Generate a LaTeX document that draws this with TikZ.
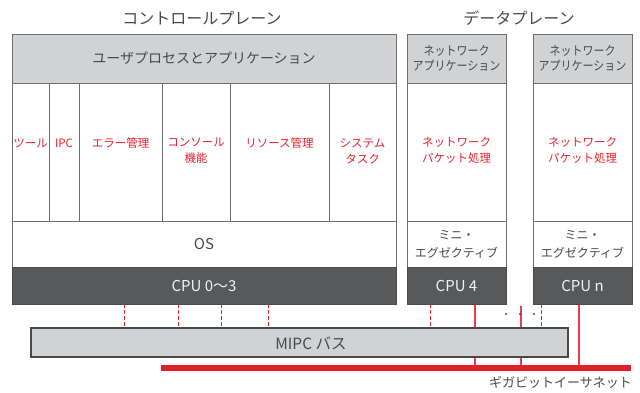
\documentclass[tikz,border=0pt]{standalone}
\usepackage{fontspec}
\setmainfont{Noto Sans CJK JP}
\newfontfamily\condfont[FakeStretch=0.88]{Noto Sans CJK JP}
\usetikzlibrary{backgrounds}
\definecolor{hdr}{RGB}{209,210,212}
\definecolor{cpufill}{RGB}{88,89,91}
\definecolor{edge}{RGB}{110,111,114}
\definecolor{txt}{RGB}{72,73,75}
\definecolor{lab}{RGB}{232,33,43}
\definecolor{gbe}{RGB}{226,30,38}
\definecolor{linkred}{RGB}{236,60,68}
\begin{document}
\begin{tikzpicture}[x=1pt,y=-1pt,
  box/.style={draw=edge, line width=0.9pt, rectangle, inner sep=0pt, outer sep=0pt},
  hdrbox/.style={box, fill=hdr, text=txt},
  plainbox/.style={box, fill=white, text=txt},
  cpubox/.style={box, fill=cpufill, draw=cpufill!85!black, text=white!90!gray, font=\fontsize{15}{17}\selectfont},
  redlab/.style={text=lab, font=\fontsize{11.5}{16}\selectfont, align=center, inner sep=0pt},
  dsh/.style={draw=lab, line width=1pt, dash pattern=on 3.5pt off 2.5pt},
  ethlink/.style={color=linkred, line width=1.1pt},
  ttl/.style={text=txt, font=\fontsize{16}{18}\selectfont, inner sep=0pt}
]
\useasboundingbox (0,0) rectangle (640,392);

% titles
\node[ttl] (tcp) at (202,18) {コントロールプレーン};
\node[ttl] (tdp) at (519,18) {データプレーン};

% control plane
\node[hdrbox, minimum width=384pt, minimum height=49pt, font=\fontsize{14}{16}\selectfont] (cph) at (204,58.5) {ユーザプロセスとアプリケーション};
\node[plainbox, minimum width=37pt, minimum height=138pt] (c1) at (30.5,152) {};
\node[plainbox, minimum width=30pt, minimum height=138pt] (c2) at (64,152) {};
\node[plainbox, minimum width=83pt, minimum height=138pt] (c3) at (120.5,152) {};
\node[plainbox, minimum width=68pt, minimum height=138pt] (c4) at (196,152) {};
\node[plainbox, minimum width=99pt, minimum height=138pt] (c5) at (279.5,152) {};
\node[plainbox, minimum width=67pt, minimum height=138pt] (c6) at (362.5,152) {};
\node[redlab] (l1) at (30.5,143) {ツール};
\node[redlab] (l2) at (64,143) {IPC};
\node[redlab] (l3) at (120.5,143) {エラー管理};
\node[redlab] (l4) at (196,151) {コンソール\\機能};
\node[redlab] (l5) at (279.5,143) {リソース管理};
\node[redlab] (l6) at (362.5,151) {システム\\タスク};
\node[plainbox, minimum width=384pt, minimum height=46pt, font=\fontsize{15}{17}\selectfont] (os) at (204,244) {OS};
\node[cpubox, minimum width=384pt, minimum height=37pt] (cpuA) at (204,285.5) {CPU 0～3};

% data plane 1
\node[hdrbox, minimum width=99pt, minimum height=49pt, align=center, font=\condfont\fontsize{12.5}{15}\selectfont] (dh1) at (456.5,58.5) {ネットワーク\\アプリケーション};
\node[plainbox, minimum width=99pt, minimum height=138pt] (db1) at (456.5,152) {};
\node[redlab] (dl1) at (456.5,150.5) {ネットワーク\\パケット処理};
\node[plainbox, minimum width=99pt, minimum height=46pt, align=center, font=\fontsize{12}{18}\selectfont] (me1) at (456.5,244) {ミニ・\\エグゼクティブ};
\node[cpubox, minimum width=99pt, minimum height=37pt] (cpuB) at (456.5,285.5) {CPU 4};

% data plane n
\node[hdrbox, minimum width=99pt, minimum height=49pt, align=center, font=\condfont\fontsize{12.5}{15}\selectfont] (dh2) at (582.5,58.5) {ネットワーク\\アプリケーション};
\node[plainbox, minimum width=99pt, minimum height=138pt] (db2) at (582.5,152) {};
\node[redlab] (dl2) at (582.5,150.5) {ネットワーク\\パケット処理};
\node[plainbox, minimum width=99pt, minimum height=46pt, align=center, font=\fontsize{12}{18}\selectfont] (me2) at (582.5,244) {ミニ・\\エグゼクティブ};
\node[cpubox, minimum width=99pt, minimum height=37pt] (cpuC) at (582.5,285.5) {CPU n};

% bus
\node[box, fill=hdr, draw=txt, line width=1.2pt, minimum width=537pt, minimum height=29pt] (bus) at (299.5,342.5) {};
\node[text=txt, font=\fontsize{15.5}{17}\selectfont, inner sep=0pt] (busl) at (311,343) {MIPC バス};

% gigabit ethernet
\coordinate (geL) at (161,368);
\coordinate (geR) at (631,368);
\coordinate (tap) at (521,306);
\node[text=txt, font=\fontsize{13}{15}\selectfont, inner sep=0pt, anchor=east] (gel) at (632,382) {ギガビットイーサネット};

\begin{scope}[on background layer]
  \draw[dsh] (cpuA.south -| 124,0) -- (bus.north -| 124,0);
  \draw[dsh] (cpuA.south -| 178,0) -- (bus.north -| 178,0);
  \draw[dsh] (cpuA.south -| 221,0) -- (bus.north -| 221,0);
  \draw[dsh] (cpuA.south -| 268,0) -- (bus.north -| 268,0);
  \draw[dsh] (cpuB.south -| 430,0) -- (bus.north -| 430,0);
  \draw[dsh] (cpuC.south -| 541,0) -- (bus.north -| 541,0);
  \draw[ethlink] (cpuB.south -| 475,0) -- (geL -| 475,0);
  \draw[ethlink] (tap) -- (tap |- geL);
  \draw[ethlink] (cpuC.south -| 579,0) -- (geL -| 579,0);
\end{scope}
\draw[gbe, line width=5.5pt] (geL) -- (geR);

% dots
\fill[txt] (506,314) circle[radius=1.2pt];
\fill[txt] (520,314) circle[radius=1.2pt];
\fill[txt] (534,314) circle[radius=1.2pt];
\end{tikzpicture}
\end{document}
